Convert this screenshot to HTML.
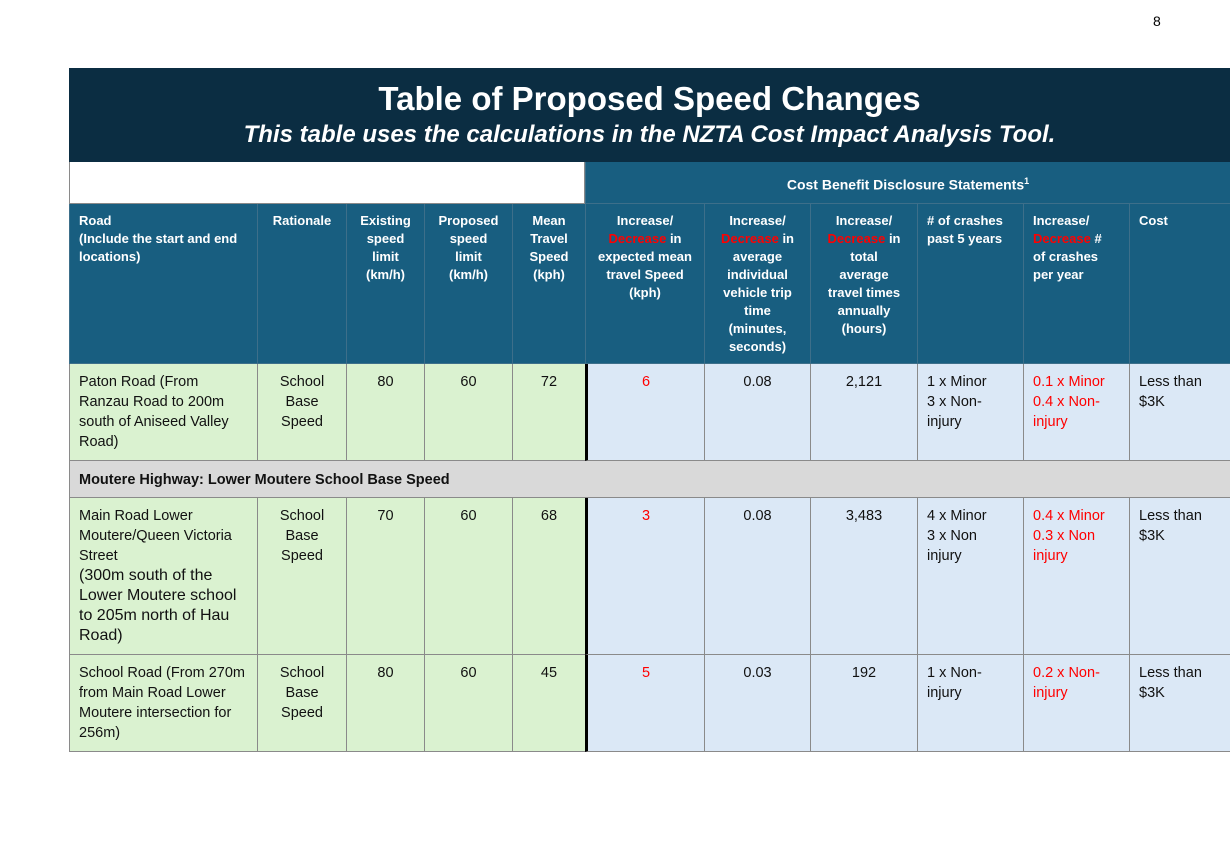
<!DOCTYPE html>
<html><head><meta charset="utf-8"><style>
body{margin:0;width:1230px;height:844px;background:#fff;position:relative;overflow:hidden;font-family:"Liberation Sans",Arial,sans-serif}
.c{position:absolute;box-sizing:border-box;border-left:1px solid #8a8a8a;border-bottom:1px solid #8a8a8a;font-size:14.5px;line-height:20px;color:#111;padding:8px 8px 0 9px}
.h{background:#185e80;color:#fff;font-weight:bold;font-size:13px;line-height:18px;padding-top:8px;border-color:#3d6f8a}
.g{background:#daf2d0}.b{background:#dbe8f6}
.ctr{text-align:center;padding-left:2px;padding-right:2px}
.r{color:#f00}
</style></head><body>
<div style="position:absolute;left:1153px;top:13px;font-size:14px">8</div>
<div style="position:absolute;left:69px;top:68px;width:1161px;height:94px;background:#0b2d42;color:#fff;text-align:center">
<div style="font-weight:bold;font-size:33px;margin-top:12px;line-height:38px">Table of Proposed Speed Changes</div>
<div style="font-weight:bold;font-style:italic;font-size:24px;line-height:30px;margin-top:2px">This table uses the calculations in the NZTA Cost Impact Analysis Tool.</div>
</div>
<div class="c" style="left:69px;top:162px;width:516px;height:42px;background:#fff;border:1px solid #8a8a8a;border-top:none"></div>
<div class="c h ctr" style="left:585px;top:162px;width:645px;height:42px;padding-top:10px;font-size:14px">Cost Benefit Disclosure Statements<sup style="font-size:9px">1</sup></div>

<div class="c h" style="left:69px;top:204px;width:188px;height:160px">Road<br>(Include the start and end locations)</div>
<div class="c h ctr" style="left:257px;top:204px;width:89px;height:160px">Rationale</div>
<div class="c h ctr" style="left:346px;top:204px;width:78px;height:160px">Existing<br>speed<br>limit<br>(km/h)</div>
<div class="c h ctr" style="left:424px;top:204px;width:88px;height:160px">Proposed<br>speed<br>limit<br>(km/h)</div>
<div class="c h ctr" style="left:512px;top:204px;width:73px;height:160px">Mean<br>Travel<br>Speed<br>(kph)</div>
<div class="c h ctr" style="left:585px;top:204px;width:119px;height:160px">Increase/<br><span class="r">Decrease</span> in<br>expected mean<br>travel Speed<br>(kph)</div>
<div class="c h ctr" style="left:704px;top:204px;width:106px;height:160px">Increase/<br><span class="r">Decrease</span> in<br>average<br>individual<br>vehicle trip<br>time<br>(minutes,<br>seconds)</div>
<div class="c h ctr" style="left:810px;top:204px;width:107px;height:160px">Increase/<br><span class="r">Decrease</span> in<br>total<br>average<br>travel times<br>annually<br>(hours)</div>
<div class="c h" style="left:917px;top:204px;width:106px;height:160px">#&nbsp;of crashes past 5 years</div>
<div class="c h" style="left:1023px;top:204px;width:106px;height:160px">Increase/<br><span class="r">Decrease</span> #<br>of crashes<br>per year</div>
<div class="c h" style="left:1129px;top:204px;width:101px;height:160px">Cost</div>

<!-- row 1 -->
<div class="c g" style="left:69px;top:364px;width:188px;height:97px">Paton Road (From Ranzau Road to 200m south of Aniseed Valley Road)</div>
<div class="c g ctr" style="left:257px;top:364px;width:89px;height:97px">School<br>Base<br>Speed</div>
<div class="c g ctr" style="left:346px;top:364px;width:78px;height:97px">80</div>
<div class="c g ctr" style="left:424px;top:364px;width:88px;height:97px">60</div>
<div class="c g ctr" style="left:512px;top:364px;width:73px;height:97px">72</div>
<div class="c b ctr r" style="left:585px;top:364px;width:119px;height:97px;border-left:3px solid #000">6</div>
<div class="c b ctr" style="left:704px;top:364px;width:106px;height:97px">0.08</div>
<div class="c b ctr" style="left:810px;top:364px;width:107px;height:97px">2,121</div>
<div class="c b" style="left:917px;top:364px;width:106px;height:97px">1 x Minor<br>3 x Non-<br>injury</div>
<div class="c b r" style="left:1023px;top:364px;width:106px;height:97px">0.1 x Minor<br>0.4 x Non-<br>injury</div>
<div class="c b" style="left:1129px;top:364px;width:101px;height:97px">Less than<br>$3K</div>

<div class="c" style="left:69px;top:461px;width:1161px;height:37px;background:#d9d9d9;font-weight:bold;font-size:14.5px;padding-top:9px">Moutere Highway: Lower Moutere School Base Speed</div>

<!-- row 2 -->
<div class="c g" style="left:69px;top:498px;width:188px;height:157px">Main Road Lower Moutere/Queen Victoria Street<br><span style="font-size:16px">(300m south of the Lower Moutere school to 205m north of Hau Road)</span></div>
<div class="c g ctr" style="left:257px;top:498px;width:89px;height:157px">School<br>Base<br>Speed</div>
<div class="c g ctr" style="left:346px;top:498px;width:78px;height:157px">70</div>
<div class="c g ctr" style="left:424px;top:498px;width:88px;height:157px">60</div>
<div class="c g ctr" style="left:512px;top:498px;width:73px;height:157px">68</div>
<div class="c b ctr r" style="left:585px;top:498px;width:119px;height:157px;border-left:3px solid #000">3</div>
<div class="c b ctr" style="left:704px;top:498px;width:106px;height:157px">0.08</div>
<div class="c b ctr" style="left:810px;top:498px;width:107px;height:157px">3,483</div>
<div class="c b" style="left:917px;top:498px;width:106px;height:157px">4 x Minor<br>3 x Non<br>injury</div>
<div class="c b r" style="left:1023px;top:498px;width:106px;height:157px">0.4 x Minor<br>0.3 x Non<br>injury</div>
<div class="c b" style="left:1129px;top:498px;width:101px;height:157px">Less than<br>$3K</div>

<!-- row 3 -->
<div class="c g" style="left:69px;top:655px;width:188px;height:97px">School Road (From 270m from Main Road Lower Moutere intersection for 256m)</div>
<div class="c g ctr" style="left:257px;top:655px;width:89px;height:97px">School<br>Base<br>Speed</div>
<div class="c g ctr" style="left:346px;top:655px;width:78px;height:97px">80</div>
<div class="c g ctr" style="left:424px;top:655px;width:88px;height:97px">60</div>
<div class="c g ctr" style="left:512px;top:655px;width:73px;height:97px">45</div>
<div class="c b ctr r" style="left:585px;top:655px;width:119px;height:97px;border-left:3px solid #000">5</div>
<div class="c b ctr" style="left:704px;top:655px;width:106px;height:97px">0.03</div>
<div class="c b ctr" style="left:810px;top:655px;width:107px;height:97px">192</div>
<div class="c b" style="left:917px;top:655px;width:106px;height:97px">1 x Non-<br>injury</div>
<div class="c b r" style="left:1023px;top:655px;width:106px;height:97px">0.2 x Non-<br>injury</div>
<div class="c b" style="left:1129px;top:655px;width:101px;height:97px">Less than<br>$3K</div>
</body></html>
